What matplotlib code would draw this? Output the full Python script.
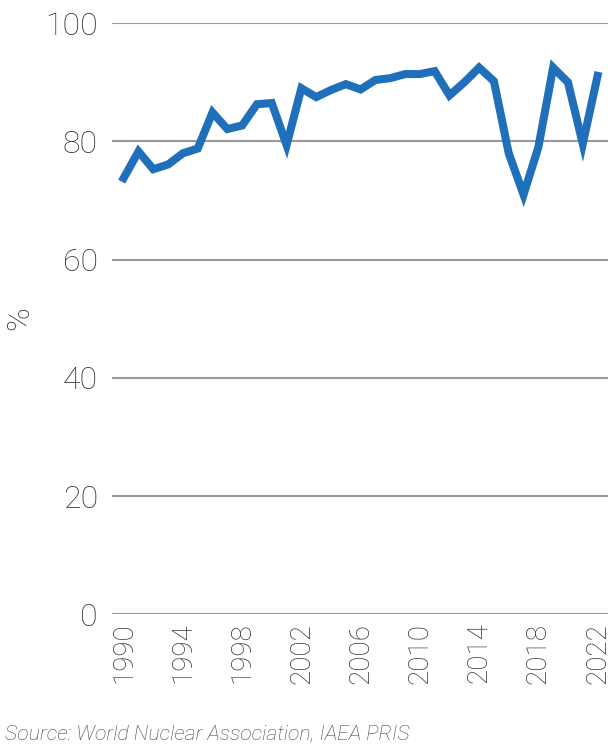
import matplotlib
matplotlib.use("Agg")
import matplotlib.pyplot as plt

years = list(range(1990, 2023))
values = [73.8, 78.3, 75.3, 76.1, 78.0, 78.8, 84.9, 82.1, 82.7, 86.3, 86.5, 79.4,
          89.0, 87.5, 88.7, 89.7, 88.8, 90.4, 90.7, 91.4, 91.4, 91.9, 87.8, 90.0,
          92.5, 90.2, 78.0, 71.0, 79.0, 92.5, 90.0, 79.6, 91.1]
xticks = list(range(1990, 2023, 4))
yticks = [0, 20, 40, 60, 80, 100]

plt.rcParams['font.family'] = ['Roboto', 'DejaVu Sans']
W = 'light'

fig = plt.figure(figsize=(6.11, 7.5), dpi=100)
ax = fig.add_axes([0.183, 0.181, 0.812, 0.788])
ax.plot(years, values, color='#1f6fba', linewidth=5.8, solid_joinstyle='miter', zorder=3)
ax.set_xlim(1989.2, 2022.7)
ax.set_ylim(0, 100)
ax.set_yticks(yticks)
ax.set_xticks(xticks)
ax.set_xticklabels([str(t) for t in xticks], rotation=90, fontsize=20, color='#333333', fontweight=W)
ax.set_yticklabels([str(t) for t in yticks], fontsize=23, color='#333333', fontweight=W)
ax.tick_params(length=0, pad=10)
ax.tick_params(axis='x', pad=6)
ax.grid(axis='y', color='#999999', linewidth=1.5)
ax.set_axisbelow(True)
for s in ax.spines.values():
    s.set_visible(False)
fig.text(0.033, 0.576, '%', fontsize=23, color='#333333', fontweight=W,
         rotation=90, ha='center', va='center')
fig.text(0.008, 0.013, 'Source: World Nuclear Association, IAEA PRIS', fontsize=15.3,
         style='italic', color='#444444', fontweight=W)
fig.savefig('out.png', dpi=100)
